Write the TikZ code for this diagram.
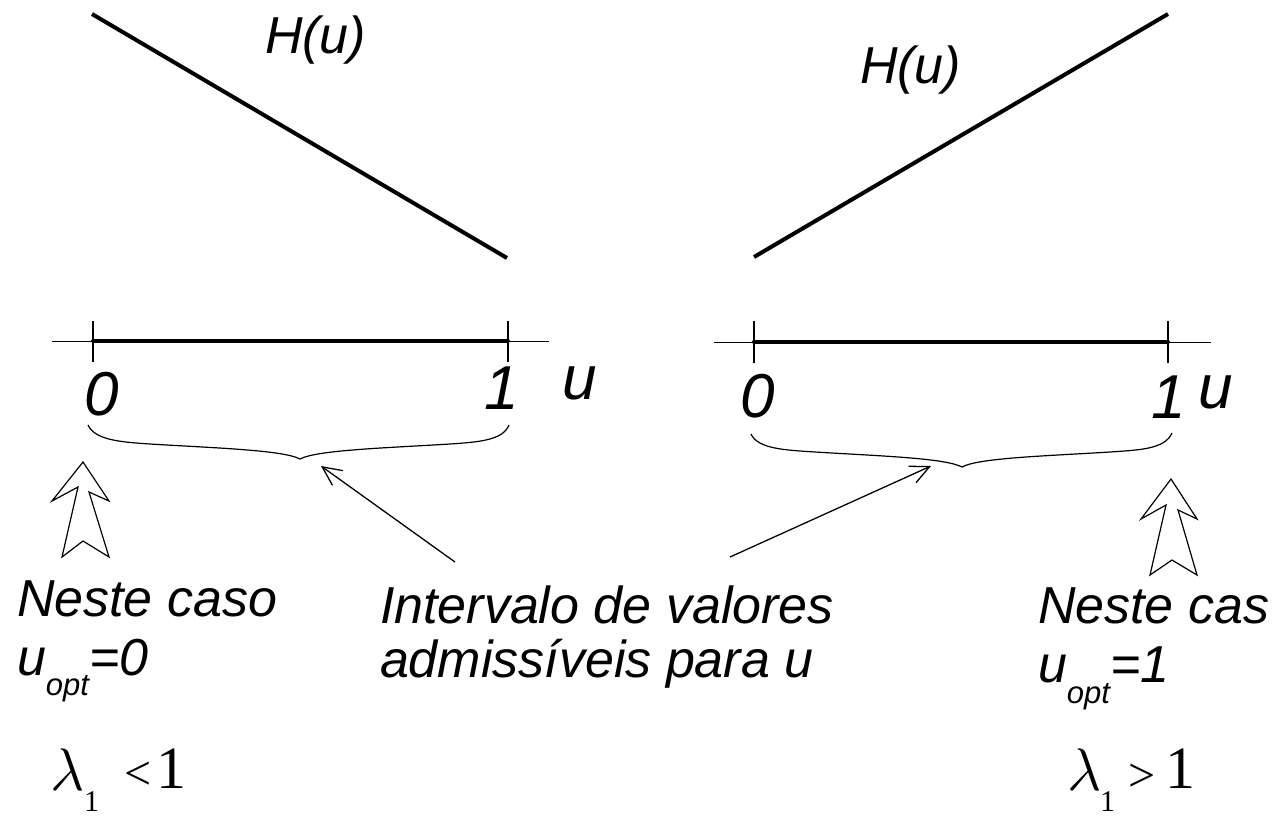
\RequirePackage{fix-cm}
\documentclass[tikz,border=0pt]{standalone}
\usepackage{fontspec}
\setmainfont{Liberation Sans}
\newfontfamily\timesf{Liberation Serif}
\usetikzlibrary{arrows.meta}
\begin{document}
\begin{tikzpicture}[x=1pt,y=-1pt,
  txt/.style={inner sep=0pt, outer sep=0pt, anchor=base west, font=\fontsize{52}{52}\selectfont\itshape},
  axlab/.style={inner sep=0pt, outer sep=0pt, anchor=base west, font=\fontsize{62}{62}\selectfont\itshape},
  lam/.style={inner sep=0pt, outer sep=0pt, anchor=base west, font=\fontsize{60}{60}\selectfont},
  sublab/.style={inner sep=0pt, outer sep=0pt, anchor=base west, font=\fontsize{30}{30}\selectfont\timesf},
  rel/.style={inner sep=0pt, outer sep=0pt, anchor=center, font=\fontsize{48}{48}\selectfont\timesf},
  big1/.style={inner sep=0pt, outer sep=0pt, anchor=center, font=\fontsize{60}{60}\selectfont\timesf},
  hline/.style={line width=4pt},
  thinax/.style={line width=1pt},
  thickax/.style={line width=4pt, line cap=round},
  tickmark/.style={line width=1.2pt},
  bracestyle/.style={line width=1.2pt},
  blockarrow/.style={line width=1.2pt, line join=miter},
  ptr/.style={line width=1.3pt, -{Straight Barb[length=19pt,width=18pt,line width=1.3pt]}},
  ]
\useasboundingbox (0,0) rectangle (1276,815);

% H(u) lines
\coordinate (hl1) at (92,14);
\coordinate (hl2) at (507,258);
\coordinate (hr1) at (754,257);
\coordinate (hr2) at (1168,14);
\draw[hline] (hl1) -- (hl2);
\draw[hline] (hr1) -- (hr2);
\node[txt] (hlabL) at (265,53) {H(u)};
\node[txt] (hlabR) at (860,83) {H(u)};

% left axis
\coordinate (axL1) at (52,341);
\coordinate (axL2) at (549,341);
\coordinate (zL) at (93,341);
\coordinate (oL) at (508,341);
\draw[thinax] (axL1) -- (axL2);
\draw[thickax] (zL) -- (oL);
\draw[tickmark] (93,321) -- (93,362);
\draw[tickmark] (508,321) -- (508,362);
\node[axlab] (l0L) at (84,415) {0};
\node[axlab] (l1L) at (484,409) {1};
\node[axlab] (luL) at (562,399) {u};

% right axis
\coordinate (axR1) at (714,342);
\coordinate (axR2) at (1211,342);
\coordinate (zR) at (754,342);
\coordinate (oR) at (1168,342);
\draw[thinax] (axR1) -- (axR2);
\draw[thickax] (zR) -- (oR);
\draw[tickmark] (754,321) -- (754,363);
\draw[tickmark] (1168,321) -- (1168,363);
\node[axlab] (l0R) at (740,417) {0};
\node[axlab] (l1R) at (1151,418) {1};
\node[axlab] (luR) at (1198,408) {u};

% braces
\coordinate (bL) at (300,459);
\coordinate (bR) at (962,467);
\draw[bracestyle] (88,425) .. controls (95,440) and (120,442) .. (150,444)
  .. controls (215,448) and (283,450) .. (bL)
  .. controls (317,450) and (385,448) .. (450,444)
  .. controls (480,442) and (503,440) .. (509,425);
\draw[bracestyle] (751,434) .. controls (758,449) and (785,450) .. (815,452)
  .. controls (880,456) and (945,458) .. (bR)
  .. controls (978,458) and (1045,456) .. (1110,452)
  .. controls (1140,450) and (1165,449) .. (1172,433);

% block arrows
\draw[blockarrow] (83,462) -- (109,501) -- (89,492) -- (109,557) -- (83,541)
  -- (62,557) -- (78,487) -- (52,501) -- cycle;
\draw[blockarrow] (1171,479) -- (1197,519) -- (1178,510) -- (1197,575) -- (1172,560)
  -- (1150,575) -- (1166,505) -- (1141,519) -- cycle;

% pointer arrows
\coordinate (tailL) at (455,562);
\coordinate (tipL) at (321,466);
\coordinate (tailR) at (730,557);
\coordinate (tipR) at (931,466);
\draw[ptr] (tailL) -- (tipL);
\draw[ptr] (tailR) -- (tipR);

% texts
\node[txt] (nL1) at (17,616) {Neste caso};
\node[txt] (nL2) at (17,675) {u\raisebox{-20pt}{\fontsize{31}{31}\selectfont opt}=0};
\node[txt] (mid1) at (380,623) {Intervalo de valores};
\node[txt] (mid2) at (380,677) {admissíveis para u};
\node[txt] (nR1) at (1038,623) {Neste cas};
\node[txt] (nR2) at (1038,682) {u\raisebox{-21pt}{\fontsize{31}{31}\selectfont opt}=1};

% lambda conditions
\node[lam] (lamL) at (50,790) {$\lambda$};
\node[sublab] (subL) at (84,811) {1};
\node[rel] (relL) at (138,776) {<};
\node[big1] (oneL) at (171,769) {1};
\node[lam] (lamR) at (1067,790) {$\lambda$};
\node[sublab] (subR) at (1100,811) {1};
\node[rel] (relR) at (1142,778) {>};
\node[big1] (oneR) at (1180,769) {1};
\end{tikzpicture}
\end{document}
